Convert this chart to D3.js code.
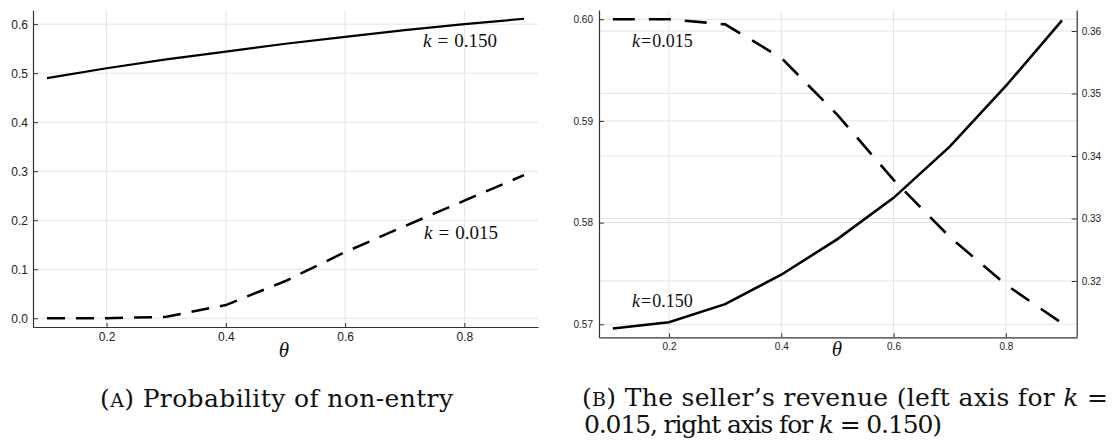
<!DOCTYPE html>
<html>
<head>
<meta charset="utf-8">
<script src="https://cdn.jsdelivr.net/npm/d3@7"></script>
<style>
  body { margin: 0; background: #fff; }
  svg { display: block; }
  .tick text { font-family: "Liberation Sans", Arial, sans-serif; fill: #222; }
  .axis-line { stroke: #333; stroke-width: 1.2; }
  .grid line { stroke: #e4e4e4; stroke-width: 1; }
  .math { font-family: "Liberation Serif", "DejaVu Serif", serif; fill: #111; }
  .caption { font-family: "DejaVu Serif", "Liberation Serif", serif; fill: #111; }
</style>
</head>
<body>
<svg id="chart" width="1112" height="446"></svg>
<script>
const THETA = [0.1, 0.2, 0.3, 0.4, 0.5, 0.6, 0.7, 0.8, 0.9];

// panel A: probability of non-entry
const NONENTRY_K150 = [0.490, 0.510, 0.528, 0.544, 0.560, 0.574, 0.588, 0.600, 0.611];
const NONENTRY_K015 = [0.000, 0.000, 0.003, 0.027, 0.076, 0.135, 0.188, 0.240, 0.292];

// panel B: seller's revenue (k=0.015 on left axis, k=0.150 on right axis)
const REVENUE_K015 = [0.6000, 0.6000, 0.5995, 0.5962, 0.5906, 0.5842, 0.5786, 0.5739, 0.5701];
const REVENUE_K150 = [0.3124, 0.3134, 0.3163, 0.3210, 0.3267, 0.3333, 0.3415, 0.3512, 0.3617];

const A_X_TICKS = [0.2, 0.4, 0.6, 0.8];
const A_Y_TICKS = [0.0, 0.1, 0.2, 0.3, 0.4, 0.5, 0.6];
const B_X_TICKS = [0.2, 0.4, 0.6, 0.8];
const B_LEFT_TICKS = [0.57, 0.58, 0.59, 0.60];
const B_RIGHT_TICKS = [0.32, 0.33, 0.34, 0.35, 0.36];

const svg = d3.select("#chart");

function drawGrid(g, xScale, xTicks, yScale, yTicks, yRange) {
  const grid = g.append("g").attr("class", "grid");
  grid.selectAll("line.v")
    .data(xTicks)
    .join("line")
    .attr("class", "v")
    .attr("x1", (d) => xScale(d))
    .attr("x2", (d) => xScale(d))
    .attr("y1", yRange[0])
    .attr("y2", yRange[1]);
  grid.selectAll("line.h")
    .data(yTicks)
    .join("line")
    .attr("class", "h")
    .attr("x1", xScale.range()[0])
    .attr("x2", xScale.range()[1])
    .attr("y1", (d) => yScale(d))
    .attr("y2", (d) => yScale(d));
}

function styleAxis(group, fontSize) {
  group.select(".domain").attr("class", "domain axis-line").attr("fill", "none");
  group.selectAll(".tick line").attr("stroke", "#333");
  group.selectAll(".tick text").attr("font-size", fontSize);
}

function mathLabel(parent, x, y, kValue, size, gap) {
  const t = parent.append("text").attr("class", "math").attr("x", x).attr("y", y).attr("font-size", size);
  t.append("tspan").attr("font-style", "italic").text("k");
  t.append("tspan").attr("dx", gap).text("=");
  t.append("tspan").attr("dx", gap).text(kValue);
  return t;
}

function thetaLabel(parent, x, y) {
  parent.append("text")
    .attr("class", "math")
    .attr("x", x)
    .attr("y", y)
    .attr("text-anchor", "middle")
    .attr("font-size", 21)
    .attr("font-style", "italic")
    .text("θ");
}

// ---------- panel A ----------
function drawPanelA() {
  const g = svg.append("g");
  const x = d3.scaleLinear().domain([0.0765, 0.9235]).range([33, 538]);
  const y = d3.scaleLinear().domain([-0.0178, 0.6289]).range([327, 10]);

  drawGrid(g, x, A_X_TICKS, y, A_Y_TICKS, [327, 10]);

  g.append("g")
    .attr("transform", "translate(0,327)")
    .call(d3.axisBottom(x).tickValues(A_X_TICKS).tickSize(-4).tickPadding(5).tickSizeOuter(0).tickFormat(d3.format(".1f")))
    .call((a) => styleAxis(a, 12));

  g.append("g")
    .attr("transform", "translate(33,0)")
    .call(d3.axisLeft(y).tickValues(A_Y_TICKS).tickSize(-5).tickPadding(5).tickSizeOuter(0).tickFormat(d3.format(".1f")))
    .call((a) => styleAxis(a, 12));

  const lineHigh = d3.line().x((d, i) => x(THETA[i])).y((d) => y(d));
  g.append("path")
    .datum(NONENTRY_K150)
    .attr("d", lineHigh)
    .attr("fill", "none")
    .attr("stroke", "#000")
    .attr("stroke-width", 2.2);

  g.append("path")
    .datum(NONENTRY_K015)
    .attr("d", lineHigh)
    .attr("fill", "none")
    .attr("stroke", "#000")
    .attr("stroke-width", 2.5)
    .attr("stroke-dasharray", "18,11");

  mathLabel(g, 423, 47, "0.150", 19, 6);
  mathLabel(g, 424, 239, "0.015", 19, 6);
  thetaLabel(g, 284, 357);
}

// ---------- panel B ----------
function drawPanelB() {
  const g = svg.append("g");
  const x = d3.scaleLinear().domain([0.07533, 0.92618]).range([599, 1076.7]);
  const yLeft = d3.scaleLinear().domain([0.56872, 0.60091]).range([337.3, 10]);
  const yRight = d3.scaleLinear().domain([0.31099, 0.36336]).range([337.3, 10]);

  drawGrid(g, x, B_X_TICKS, yLeft, B_LEFT_TICKS, [337.3, 10]);
  drawGrid(g, x, [], yRight, B_RIGHT_TICKS, [337.3, 10]);

  g.append("g")
    .attr("transform", "translate(0,337.3)")
    .call(d3.axisBottom(x).tickValues(B_X_TICKS).tickSize(-4).tickPadding(6).tickSizeOuter(0).tickFormat(d3.format(".1f")))
    .call((a) => styleAxis(a, 10));

  g.append("g")
    .attr("transform", "translate(599,0)")
    .call(d3.axisLeft(yLeft).tickValues(B_LEFT_TICKS).tickSize(-5).tickPadding(6).tickSizeOuter(0).tickFormat(d3.format(".2f")))
    .call((a) => styleAxis(a, 10));

  g.append("g")
    .attr("transform", "translate(1076.7,0)")
    .call(d3.axisRight(yRight).tickValues(B_RIGHT_TICKS).tickSize(-5).tickPadding(5).tickSizeOuter(0).tickFormat(d3.format(".2f")))
    .call((a) => styleAxis(a, 10));

  g.append("path")
    .datum(REVENUE_K015)
    .attr("d", d3.line().x((d, i) => x(THETA[i])).y((d) => yLeft(d)))
    .attr("fill", "none")
    .attr("stroke", "#000")
    .attr("stroke-width", 2.6)
    .attr("stroke-dasharray", "22,14");

  g.append("path")
    .datum(REVENUE_K150)
    .attr("d", d3.line().x((d, i) => x(THETA[i])).y((d) => yRight(d)))
    .attr("fill", "none")
    .attr("stroke", "#000")
    .attr("stroke-width", 2.6);

  mathLabel(g, 632, 47, "0.015", 18, 1);
  mathLabel(g, 632, 307, "0.150", 18, 1);
  thetaLabel(g, 837, 356);
}

// ---------- captions ----------
function drawCaptions() {
  const a = svg.append("text").attr("class", "caption").attr("x", 100).attr("y", 407).attr("font-size", 25)
    .attr("textLength", 353).attr("lengthAdjust", "spacing");
  a.append("tspan").text("(");
  a.append("tspan").attr("font-size", 19).text("A");
  a.append("tspan").text(") Probability of non-entry");

  const b1 = svg.append("text").attr("class", "caption").attr("x", 582).attr("y", 406).attr("font-size", 25)
    .attr("textLength", 526).attr("lengthAdjust", "spacing");
  b1.append("tspan").text("(");
  b1.append("tspan").attr("font-size", 19).text("B");
  b1.append("tspan").text(") The seller’s revenue (left axis for ");
  b1.append("tspan").attr("font-style", "italic").text("k");
  b1.append("tspan").text(" =");

  const b2 = svg.append("text").attr("class", "caption").attr("x", 584).attr("y", 433).attr("font-size", 25)
    .attr("textLength", 358).attr("lengthAdjust", "spacing");
  b2.append("tspan").text("0.015, right axis for ");
  b2.append("tspan").attr("font-style", "italic").text("k");
  b2.append("tspan").text(" = 0.150)");
}

drawPanelA();
drawPanelB();
drawCaptions();
</script>
</body>
</html>
